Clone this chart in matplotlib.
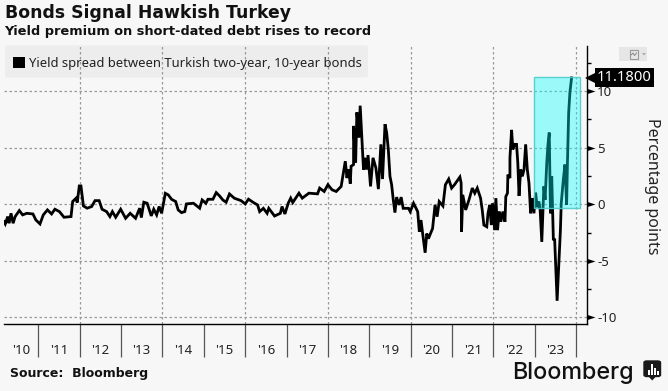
import matplotlib
matplotlib.use('Agg')
import matplotlib.pyplot as plt
from matplotlib.lines import Line2D
from matplotlib.patches import Rectangle, FancyBboxPatch, Polygon
from matplotlib.path import Path

# values
dates = [2010.17,2010.2,2010.26,2010.29,2010.34,2010.39,2010.44,2010.54,2010.62,2010.72,2010.87,2010.94,
         2011.04,2011.12,2011.22,2011.32,2011.4,2011.51,2011.62,2011.79,2011.83,2011.91,2011.94,2011.99,
         2012.03,2012.09,2012.18,2012.29,2012.37,2012.47,2012.54,2012.65,2012.73,2012.79,2012.87,2012.99,
         2013.11,2013.22,2013.35,2013.45,2013.49,2013.55,2013.63,2013.73,2013.79,2013.86,2013.92,2013.98,
         2014.07,2014.14,2014.22,2014.32,2014.38,2014.46,2014.54,2014.58,2014.75,2014.9,2014.96,
         2015.05,2015.1,2015.22,2015.3,2015.38,2015.46,2015.54,2015.62,2015.74,2015.9,2016.0,
         2016.08,2016.2,2016.3,2016.35,2016.44,2016.53,2016.57,2016.71,2016.85,2016.89,2016.96,
         2017.04,2017.1,2017.15,2017.3,2017.38,2017.54,2017.75,2017.8,2017.91,
         2018.0,2018.1,2018.2,2018.32,2018.42,2018.46,2018.5,2018.54,2018.56,2018.62,2018.62,2018.67,2018.7,
         2018.75,2018.78,2018.82,2018.86,2018.89,2018.93,2018.97,
         2019.03,2019.09,2019.16,2019.22,2019.28,2019.32,2019.38,2019.42,2019.46,2019.5,2019.54,2019.58,
         2019.62,2019.66,2019.72,2019.77,2019.82,2019.95,2019.99,
         2020.07,2020.17,2020.21,2020.25,2020.29,2020.35,2020.39,2020.43,2020.53,2020.59,2020.64,2020.69,
         2020.78,2020.84,2020.92,2020.99,
         2021.06,2021.19,2021.22,2021.23,2021.26,2021.33,2021.41,2021.49,2021.55,2021.61,2021.69,2021.73,
         2021.77,2021.84,2021.87,2021.91,2021.95,2021.98,
         2022.03,2022.06,2022.1,2022.14,2022.18,2022.23,2022.28,2022.3,2022.34,2022.35,2022.4,2022.4,2022.44,
         2022.47,2022.51,2022.56,2022.59,2022.62,2022.66,2022.7,2022.74,2022.78,2022.82,2022.86,2022.9,
         2022.94,2022.98,
         2023.02,2023.06,2023.1,2023.13,2023.17,2023.22,2023.25,2023.29,2023.32,2023.35,2023.38,2023.41,
         2023.45,2023.48,2023.54,2023.62,2023.64,2023.69,2023.73,2023.77,2023.79,2023.82,2023.85,2023.89]
spread = [-1.53,-1.74,-1.09,-1.68,-0.8,-1.68,-1.09,-0.56,-0.94,-0.8,-0.86,-1.39,
          -1.74,-0.94,-0.5,-0.86,-0.44,-0.65,-1.15,-1.09,0.24,0.53,0.15,1.62,
          1.62,-0.15,-0.35,-0.2,0.32,0.32,-0.44,-0.65,-1.09,-0.65,-1.15,-0.44,
          -1.24,-0.8,-1.24,-0.35,-1.18,0.18,0.09,-1.03,-0.44,-0.94,-0.2,-0.8,
          0.97,0.83,0.44,0.24,-0.5,-0.74,-0.65,0.03,0.09,-0.35,0.38,
          0.09,0.44,0.44,1.03,0.74,0.38,0.18,0.91,0.53,0.32,0.03,
          0.45,0.15,-0.06,-0.65,-0.36,-0.8,-0.36,-1.04,-0.8,-0.2,-0.86,
          0.09,0.54,0.15,0.98,0.54,0.98,0.92,1.43,1.13,
          1.73,1.28,1.13,1.58,3.81,2.32,3.07,1.82,3.36,3.51,6.93,3.66,8.13,
          5.89,8.72,5.89,3.07,4.11,3.07,4.35,
          1.58,4.11,3.21,1.34,5.3,2.23,7.08,6.34,4.85,2.47,1.73,0.39,
          -0.74,0.63,-0.06,0.63,-0.36,-0.36,-0.65,
          0.09,-0.65,-2.44,-1.4,-2.59,-4.29,-2.59,-3.04,-2.14,-0.06,-1.1,0.24,
          -0.15,1.73,2.23,1.43,
          1.73,2.41,1.88,-2.44,0.83,-0.5,0.39,1.43,0.98,1.43,0.54,-0.5,
          -1.84,-1.99,-0.8,-0.06,-1.84,0.09,
          -2.29,0.54,-2.29,-0.65,-1.55,-0.65,-1.55,0.68,0.98,2.62,2.32,4.11,6.58,
          4.85,5.3,5.3,3.66,0.74,3.07,2.47,3.07,5.3,3.07,1.88,-0.8,
          0.54,-0.8,
          1.04,-0.27,0.24,-0.5,-3.33,1.58,0.39,3.66,5.3,6.34,-0.8,2.47,
          -3.18,-3.04,-8.54,-2.29,0.09,2.17,3.51,-0.06,3.66,8.13,9.91,11.18]

year_ticks = list(range(2011, 2025))
grid_years = [2012, 2014, 2016, 2018, 2020, 2022, 2024]
label_pos = [2010.58] + [y + 0.5 for y in range(2011, 2024)]
year_labels = ["'10","'11","'12","'13","'14","'15","'16","'17","'18","'19","'20","'21","'22","'23"]
y_major = [-10, -5, 0, 5, 10]
y_minor = [-7.5, -2.5, 2.5, 7.5, 12.5]
highlight = (2022.98, 2024.09, -0.35, 11.25)
last_label = '11.1800'

W, H = 668, 391
bg = '#F7F7F7'
plt.rcParams['font.family'] = ['Noto Sans', 'DejaVu Sans']

fig = plt.figure(figsize=(W / 100, H / 100), dpi=100, facecolor=bg)
ax = fig.add_axes([4 / W, 1 - 324.3 / H, 583.3 / W, 278.3 / H])
ax.set_facecolor('none')

ax.plot(dates, spread, color='black', lw=2.0, solid_joinstyle='miter', zorder=3)

# highlighted box over the latest move
ax.add_patch(Rectangle((highlight[0], highlight[2]), highlight[1] - highlight[0], highlight[3] - highlight[2],
                       facecolor=(0, 1, 1, 0.37), edgecolor=(0.3, 0.8, 0.8, 0.9), lw=1.0, zorder=4))

ax.set_xlim(2010.17, 2024.27)
ax.set_ylim(-10.62, 14.0)

for s in ['top', 'left']:
    ax.spines[s].set_visible(False)
ax.spines['right'].set_linewidth(1.0)
ax.spines['bottom'].set_linewidth(1.0)

for y in grid_years:
    ax.axvline(y, color='#999999', lw=0.9, ls=(0, (2, 2)), zorder=1)
for y in y_major:
    ax.axhline(y, color='#999999', lw=0.9, ls=(0, (2, 2)), zorder=1)

ax.set_xticks(year_ticks)
ax.set_xticklabels([])
ax.set_xticks(label_pos, minor=True)
ax.set_xticklabels(year_labels, minor=True, fontsize=9.5, color='#222222')
ax.tick_params(axis='x', which='major', length=24, width=0.9, color='#555555')
ax.tick_params(axis='x', which='minor', length=0, pad=14)

ax.yaxis.tick_right()
ax.set_yticks(y_major)
ax.set_yticklabels([str(v) for v in y_major], fontsize=9.5, color='#222222')
ax.set_yticks(y_minor, minor=True)
ax.tick_params(axis='y', which='minor', length=3.2, width=1.0, color='black')
ax.tick_params(axis='y', which='major', length=0, pad=7)
arrow = Path([(0, -0.32), (1, 0), (0, 0.32), (0, -0.32)])
for t in ax.yaxis.get_major_ticks():
    t.tick2line.set_marker(arrow)
    t.tick2line.set_markersize(11.5)
    t.tick2line.set_markerfacecolor('black')
    t.tick2line.set_markeredgecolor('black')
    t.tick2line.set_markeredgewidth(0)

# last value tag
trans = ax.get_yaxis_transform()
ax.annotate(last_label, xy=(1, spread[-1]), xycoords=trans, xytext=(6.8, 0), textcoords='offset points',
            color='white', fontsize=10.6, va='center', ha='left', annotation_clip=False,
            bbox=dict(boxstyle='square,pad=0.14', fc='black', ec='black', lw=0), zorder=6)
ax.plot([1.0045], [spread[-1]], marker='<', ms=7, color='black', mew=0, transform=trans, clip_on=False, zorder=6)

fig.text(652 / W, 1 - 186 / H, 'Percentage points', rotation=-90, ha='center', va='center', fontsize=11.5, color='#222222')

# legend box
fig.patches.append(FancyBboxPatch((6 / W, 1 - 76.5 / H), 361 / W, 30 / H, boxstyle='round,pad=0,rounding_size=0.003',
                                  transform=fig.transFigure, fc='#EDEDED', ec='#EDEDED', lw=1.5, zorder=-1, figure=fig))
fig.patches.append(Rectangle((13 / W, 1 - 68 / H), 12 / W, 11 / H, transform=fig.transFigure, fc='black', ec='none', zorder=5, figure=fig))
fig.text(29 / W, 1 - 63 / H, 'Yield spread between Turkish two-year, 10-year bonds', fontsize=9.4, color='#222222', va='center', zorder=5)

# titles
fig.text(5 / W, 1 - 12.5 / H, 'Bonds Signal Hawkish Turkey', family='DejaVu Sans', fontweight='bold', fontsize=12.4, va='center', color='#111111')
fig.text(4 / W, 1 - 31.5 / H, 'Yield premium on short-dated debt rises to record', family='DejaVu Sans', fontweight='bold', fontsize=9.3, va='center', color='#111111')
fig.text(10 / W, 1 - 373 / H, 'Source:  Bloomberg', family='DejaVu Sans', fontweight='bold', fontsize=9.0, va='center', color='#111111')

# Bloomberg logo
fig.text(512 / W, 1 - 379 / H, 'Bloomberg', family='Inter', fontweight='medium', fontsize=16.8, va='baseline', color='#111111')
fig.patches.append(FancyBboxPatch((644 / W, 1 - 376.5 / H), 16.5 / W, 15.5 / H, boxstyle='round,pad=0,rounding_size=0.004',
                                  transform=fig.transFigure, fc='#1a1a1a', ec='#1a1a1a', lw=1, zorder=5, figure=fig))
fig.patches.append(Polygon([(649 / W, 1 - 377 / H), (655.5 / W, 1 - 377 / H), (652.2 / W, 1 - 380.5 / H)], closed=True,
                           transform=fig.transFigure, fc='#1a1a1a', ec='none', zorder=5, figure=fig))
for bx, bh in [(648, 5), (651.2, 11), (654.4, 7), (657, 4)]:
    fig.patches.append(Rectangle((bx / W, 1 - 374.5 / H), 1.6 / W, bh / H, transform=fig.transFigure, fc='white', ec='none', zorder=6, figure=fig))

# little chart switch icon, top right
fig.patches.append(Rectangle((619 / W, 1 - 61 / H), 28 / W, 14 / H, transform=fig.transFigure, fc='#E6E6E6', ec='none', zorder=-1, figure=fig))
fig.patches.append(Rectangle((629.5 / W, 1 - 58.5 / H), 8.5 / W, 8.5 / H, transform=fig.transFigure, fc='none', ec='#999999', lw=0.8, zorder=5, figure=fig))
fig.add_artist(Line2D([631 / W, 633 / W, 634.5 / W, 636.5 / W], [1 - 55 / H, 1 - 53 / H, 1 - 55.5 / H, 1 - 53 / H], color='#888888', lw=0.7))
fig.patches.append(Polygon([(642 / W, 1 - 53 / H), (646 / W, 1 - 53 / H), (644 / W, 1 - 55.5 / H)], closed=True,
                           transform=fig.transFigure, fc='#AAAAAA', ec='none', zorder=5, figure=fig))

fig.savefig('out.png', dpi=100, facecolor=bg)
